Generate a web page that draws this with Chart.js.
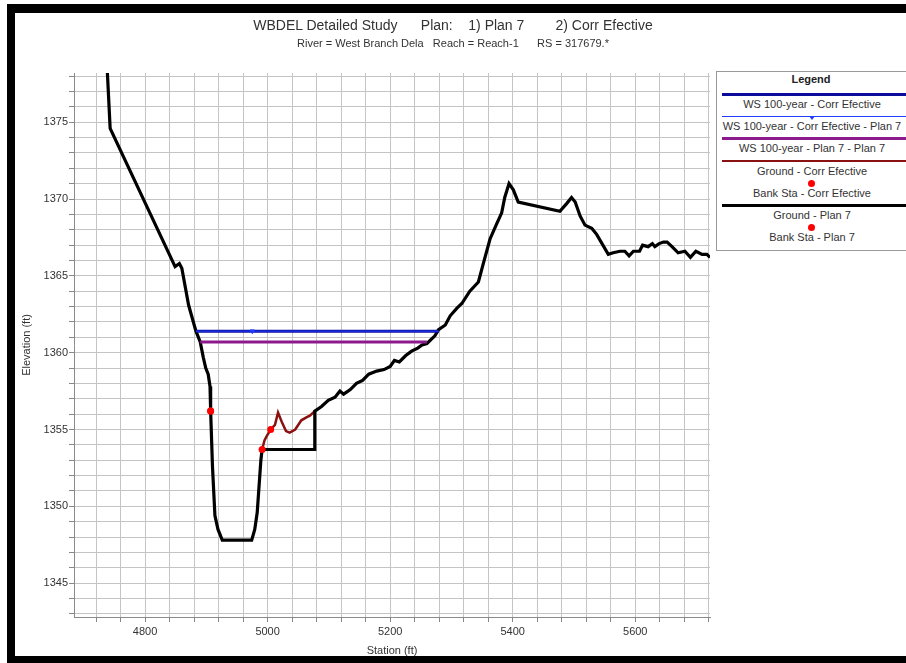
<!DOCTYPE html>
<html>
<head>
<meta charset="utf-8">
<title>WBDEL Detailed Study</title>
<script src="https://cdn.jsdelivr.net/npm/chart.js@4.4.1/dist/chart.umd.min.js"></script>
<style>
  html, body { margin: 0; padding: 0; background: #fff; }
  #wrap { position: relative; width: 906px; height: 663px; overflow: hidden; font-family: "Liberation Sans", Arial, sans-serif; color: #333; }
  #myChart { position: absolute; left: 0; top: 0; }
  .bar { position: absolute; background: #000; }
  .txt { position: absolute; white-space: pre; line-height: 13px; }
  #legend { position: absolute; left: 716px; top: 71px; width: 200px; height: 180px; border: 1px solid #999; background: #fff; box-sizing: border-box; }
</style>
</head>
<body>
<div id="wrap">
  <canvas id="myChart" width="906" height="663"></canvas>
  <div class="txt" style="top:17px; left:0; width:906px; text-align:center; font-size:14px; line-height:16px;">WBDEL Detailed Study      Plan:    1) Plan 7        2) Corr Efective</div>
  <div class="txt" style="top:37px; left:0; width:906px; text-align:center; font-size:11px;">River = West Branch Dela   Reach = Reach-1      RS = 317679.*</div>
  <div id="legend"></div>
  <div class="bar" style="left:7px; top:4px; width:899px; height:9px;"></div>
  <div class="bar" style="left:7px; top:4px; width:8px; height:659px;"></div>
  <div class="bar" style="left:7px; top:656px; width:899px; height:7px;"></div>
</div>
<script>
// Ground - Plan 7
const groundP7Sta = [4738, 4743, 4849, 4856, 4860, 4871, 4883, 4890, 4895, 4899, 4903, 4906, 4907, 4910, 4914, 4919, 4926,
  4974, 4979, 4983, 4986, 4989, 4991, 5077, 5077, 5088, 5099, 5110, 5118, 5124, 5135, 5145, 5155, 5165, 5178, 5190,
  5200, 5207, 5215, 5225, 5235, 5245, 5252, 5260, 5273, 5279, 5290, 5298, 5309, 5317, 5330, 5344, 5352, 5363, 5374,
  5382, 5387, 5394, 5401, 5409, 5477, 5488, 5496, 5502, 5510, 5518, 5529, 5537, 5556, 5564, 5575, 5583, 5590, 5597,
  5607, 5612, 5621, 5628, 5632, 5639, 5646, 5652, 5660, 5670, 5681, 5690, 5699, 5709, 5717, 5722];
const groundP7Elev = [1378.6, 1374.6, 1365.6, 1365.8, 1365.5, 1363.1, 1361.4, 1360.7, 1359.7, 1359.0, 1358.6, 1357.8, 1356.2, 1352.6, 1349.4, 1348.5, 1347.8,
  1347.8, 1348.5, 1349.6, 1351.3, 1353.0, 1353.7, 1353.7, 1356.2, 1356.5, 1356.9, 1357.1, 1357.5, 1357.3, 1357.6, 1358.0, 1358.2, 1358.6, 1358.8, 1358.9,
  1359.1, 1359.5, 1359.4, 1359.8, 1360.1, 1360.3, 1360.5, 1360.6, 1361.1, 1361.5, 1361.8, 1362.4, 1362.9, 1363.2, 1364.0, 1364.6, 1365.8, 1367.4, 1368.4,
  1369.1, 1370.1, 1371.0, 1370.6, 1369.8, 1369.2, 1369.7, 1370.1, 1369.8, 1368.9, 1368.3, 1368.1, 1367.7, 1366.4, 1366.5, 1366.6, 1366.6, 1366.3, 1366.6,
  1366.6, 1367.0, 1366.9, 1367.1, 1366.9, 1367.1, 1367.2, 1367.2, 1366.9, 1366.5, 1366.6, 1366.2, 1366.6, 1366.4, 1366.4, 1366.2];

// Ground - Corr Efective (where it differs from Plan 7)
const groundCorrSta = [4991, 4995, 4999, 5005, 5012, 5017, 5023, 5030, 5036, 5045, 5055, 5064, 5069, 5077];
const groundCorrElev = [1353.7, 1354.3, 1354.6, 1355.0, 1355.3, 1356.1, 1355.5, 1354.9, 1354.8, 1355.0, 1355.6, 1355.8, 1355.9, 1356.2];

// Bank stations
const bankP7Sta = [4907, 4991];
const bankP7Elev = [1356.2, 1353.7];
const bankCorrSta = [4907, 5005];
const bankCorrElev = [1356.2, 1355.0];

// Water surfaces
const wsCorrSta = [4883, 5279];
const wsCorrElev = [1361.4, 1361.4];
const wsCorrP7Sta = [4883, 4975, 5279];
const wsCorrP7Elev = [1361.4, 1361.4, 1361.4];
const wsP7Sta = [4890, 5260];
const wsP7Elev = [1360.7, 1360.7];

// tick labels
const xLabels = [4800, 5000, 5200, 5400, 5600];
const yLabels = [1345, 1350, 1355, 1360, 1365, 1370, 1375];

const toXY = (xs, ys) => xs.map((x, i) => ({ x: x, y: ys[i] }));
const lineDs = (label, xs, ys, color, width, order) => ({
    label: label, data: toXY(xs, ys), showLine: true, borderColor: color, backgroundColor: color,
    borderWidth: width, pointRadius: 0, tension: 0, order: order
});
const dotDs = (label, xs, ys, order) => ({
    label: label, data: toXY(xs, ys), showLine: false, backgroundColor: '#ff0000',
    borderWidth: 0, pointRadius: 3.5, order: order
});

const wsCorrP7 = lineDs('WS 100-year - Corr Efective - Plan 7', wsCorrP7Sta, wsCorrP7Elev, '#1f3cff', 1, 2);
wsCorrP7.pointRadius = [0, 2.5, 0];
wsCorrP7.pointStyle = 'triangle';
wsCorrP7.rotation = 180;

const ctx = document.getElementById('myChart').getContext('2d');
const myChart = new Chart(ctx, {
    type: 'scatter',
    data: {
        datasets: [
            lineDs('WS 100-year - Corr Efective', wsCorrSta, wsCorrElev, '#0c0c9c', 3, 3),
            wsCorrP7,
            lineDs('WS 100-year - Plan 7 - Plan 7', wsP7Sta, wsP7Elev, '#8c1a8c', 3, 4),
            lineDs('Ground - Corr Efective', groundCorrSta, groundCorrElev, '#8b1010', 2.5, 6),
            dotDs('Bank Sta - Corr Efective', bankCorrSta, bankCorrElev, 1),
            lineDs('Ground - Plan 7', groundP7Sta, groundP7Elev, '#000000', 3.2, 5),
            dotDs('Bank Sta - Plan 7', bankP7Sta, bankP7Elev, 0)
        ]
    },
    options: {
        responsive: false,
        animation: false,
        layout: { padding: { top: 73, right: 196, left: 0, bottom: 0 } },
        plugins: {
            legend: { display: false },
            tooltip: { enabled: false }
        },
        scales: {
            x: {
                type: 'linear',
                min: 4684,
                max: 5722,
                afterBuildTicks: (scale) => {
                    const ticks = [];
                    for (let v = 4720; v <= 5720; v += 40) ticks.push({ value: v });
                    scale.ticks = ticks;
                },
                afterFit: (scale) => { scale.height = 46; },
                ticks: {
                    autoSkip: false, maxRotation: 0, padding: 3,
                    color: '#333', font: { family: 'Liberation Sans', size: 11 },
                    callback: (v) => xLabels.includes(v) ? String(v) : ''
                },
                grid: { color: '#c4c4c4', lineWidth: 1, tickLength: 5, tickColor: '#888' },
                border: { color: '#8a8a8a', width: 1 },
                title: {
                    display: true, text: 'Station (ft)', color: '#333',
                    font: { family: 'Liberation Sans', size: 11 }, padding: { top: 0, bottom: 5 }
                }
            },
            y: {
                type: 'linear',
                min: 1342.8,
                max: 1378.2,
                afterBuildTicks: (scale) => {
                    const ticks = [];
                    for (let v = 1343; v <= 1378; v += 1) ticks.push({ value: v });
                    scale.ticks = ticks;
                },
                afterFit: (scale) => { scale.width = 74; },
                ticks: {
                    autoSkip: false, padding: 1,
                    color: '#333', font: { family: 'Liberation Sans', size: 11 },
                    callback: (v) => yLabels.includes(v) ? String(v) : ''
                },
                grid: { color: '#c4c4c4', lineWidth: 1, tickLength: 5, tickColor: '#888' },
                border: { color: '#8a8a8a', width: 1 },
                title: {
                    display: true, text: 'Elevation (ft)', color: '#333',
                    font: { family: 'Liberation Sans', size: 11 }, padding: { top: 20, bottom: 0 }
                }
            }
        }
    }
});

// HTML legend built from the datasets
const legendEl = document.getElementById('legend');
let html = '<div class="txt" style="left:0;width:188px;top:1px;text-align:center;font-weight:bold;font-size:11px;color:#222">Legend</div>';
myChart.data.datasets.forEach((ds, i) => {
    const symY = 22.5 + i * 22.2;
    const txtY = symY + 10 - 6.5;
    if (ds.showLine) {
        const w = ds.borderWidth;
        html += '<div style="position:absolute;left:5px;width:190px;top:' + (symY - w / 2) + 'px;height:' + w + 'px;background:' + ds.borderColor + '"></div>';
        if (ds.pointStyle === 'triangle') {
            html += '<div style="position:absolute;left:92px;top:' + (symY - 1) + 'px;width:0;height:0;border-left:3px solid transparent;border-right:3px solid transparent;border-top:4px solid ' + ds.borderColor + '"></div>';
        }
    } else {
        html += '<div style="position:absolute;left:' + (94.7 - 3.5) + 'px;top:' + (symY - 3.5) + 'px;width:7px;height:7px;border-radius:50%;background:' + ds.backgroundColor + '"></div>';
    }
    html += '<div class="txt" style="left:0;width:190px;top:' + txtY + 'px;text-align:center;font-size:11px;color:#333">' + ds.label + '</div>';
});
legendEl.innerHTML = html;
</script>
</body>
</html>
